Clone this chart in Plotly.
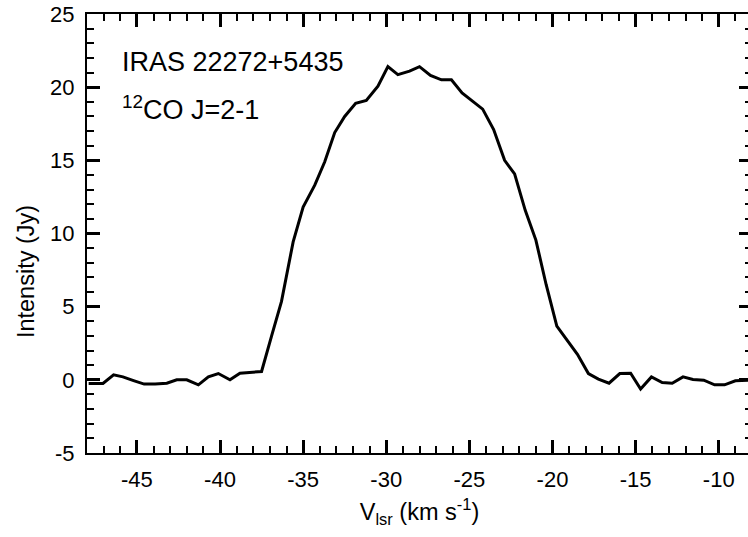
import plotly.graph_objects as go

# Data
velocity = [-47.9, -47.04, -46.4, -45.84, -45.2, -44.56, -43.9, -43.2, -42.6, -42.0,
            -41.3, -40.7, -40.1, -39.4, -38.8, -38.2, -37.5, -36.9, -36.3, -35.6,
            -35.0, -34.3, -33.7, -33.1, -32.5, -31.84, -31.2, -30.5, -29.9, -29.3,
            -28.6, -28.0, -27.34, -26.68, -26.08, -25.44, -24.84, -24.2, -23.54, -22.88,
            -22.28, -21.64, -21.0, -20.38, -19.74, -19.14, -18.5, -17.84, -17.24, -16.6,
            -15.95, -15.3, -14.7, -14.05, -13.4, -12.8, -12.15, -11.55, -10.9, -10.25,
            -9.65, -9.0, -8.37, -7.8]
intensity = [-0.25, -0.25, 0.34, 0.2, -0.05, -0.29, -0.29, -0.23, 0.0, 0.0,
             -0.34, 0.2, 0.43, 0.0, 0.45, 0.5, 0.57, 2.99, 5.36, 9.43,
             11.8, 13.3, 14.9, 16.9, 18.0, 18.9, 19.1, 20.07, 21.4, 20.86,
             21.1, 21.4, 20.8, 20.5, 20.5, 19.6, 19.05, 18.5, 17.1, 15.0,
             14.07, 11.58, 9.55, 6.5, 3.67, 2.76, 1.74, 0.43, 0.05, -0.23,
             0.43, 0.45, -0.63, 0.2, -0.18, -0.23, 0.2, 0.02, -0.02, -0.34,
             -0.34, -0.07, -0.02, 0.0]

x_tickvals = [-45, -40, -35, -30, -25, -20, -15, -10]
x_ticktext = ["-45", "-40", "-35", "-30", "-25", "-20", "-15", "-10"]
y_tickvals = [-5, 0, 5, 10, 15, 20, 25]
y_ticktext = ["-5", "0", "5", "10", "15", "20", "25"]

source_label = "IRAS 22272+5435"
line_label = "<sup>12</sup>CO J=2-1"
x_title = "V<sub>lsr</sub> (km s<sup>-1</sup>)"
y_title = "Intensity (Jy)"

FONT = "Liberation Sans, Arial, Helvetica, sans-serif"

fig = go.Figure()
fig.add_trace(go.Scatter(x=velocity, y=intensity, mode="lines",
                         line=dict(color="black", width=3), showlegend=False,
                         hoverinfo="skip"))

axis_common = dict(
    showline=True, linecolor="black", linewidth=2, mirror="allticks",
    ticks="inside", ticklen=13, tickwidth=2.5, tickcolor="black",
    showgrid=False, zeroline=False,
    tickfont=dict(family=FONT, size=22, color="black"),
    tickmode="array", ticklabeloverflow="allow",
)

fig.update_xaxes(
    **axis_common,
    range=[-48, -8],
    tickvals=x_tickvals, ticktext=x_ticktext,
    minor=dict(ticks="inside", ticklen=7, tickwidth=1.8, tickcolor="black",
               tickmode="linear", tick0=0, dtick=1, showgrid=False),
    ticklabelstandoff=6,
    title=dict(text=x_title,
               font=dict(family=FONT, size=23.5, color="black"), standoff=12),
)
fig.update_yaxes(
    **axis_common,
    range=[-5, 25],
    tickvals=y_tickvals, ticktext=y_ticktext,
    minor=dict(ticks="inside", ticklen=7, tickwidth=1.8, tickcolor="black",
               tickmode="linear", tick0=0, dtick=1, showgrid=False),
    ticklabelstandoff=6,
)

# y-axis title, centred on the figure height as in the reference
fig.add_annotation(x=-0.092, y=0.414, xref="paper", yref="paper", text=y_title,
                   showarrow=False, textangle=-90, xanchor="center", yanchor="middle",
                   font=dict(family=FONT, size=23.5, color="black"))

fig.add_annotation(x=-46.02, y=21.7, xref="x", yref="y", text=source_label,
                   showarrow=False, xanchor="left", yanchor="middle",
                   font=dict(family=FONT, size=27, color="black"))
fig.add_annotation(x=-46.02, y=18.6, xref="x", yref="y", text=line_label,
                   showarrow=False, xanchor="left", yanchor="middle",
                   font=dict(family=FONT, size=27, color="black"))

fig.update_layout(
    width=756, height=537,
    margin=dict(l=87, r=2, t=11, b=84),
    paper_bgcolor="white", plot_bgcolor="white",
    font=dict(family=FONT, color="black"),
)

fig.write_html("out.html", config={"displayModeBar": False},
               post_script="document.body.style.margin='0';document.body.style.overflow='hidden';document.documentElement.style.overflow='hidden';")
